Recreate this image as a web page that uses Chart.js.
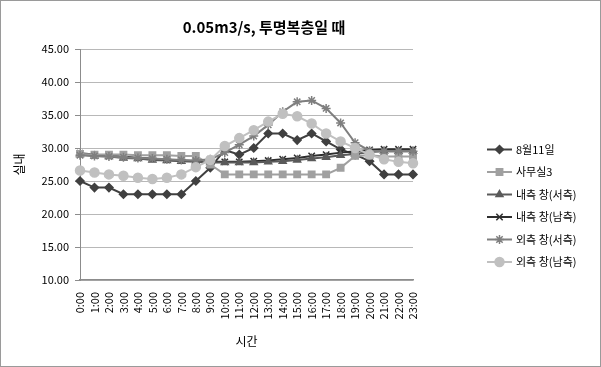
<!DOCTYPE html>
<html>
<head>
<meta charset="utf-8">
<script src="https://cdn.jsdelivr.net/npm/chart.js@4/dist/chart.umd.min.js"></script>
<style>
  html, body { margin: 0; padding: 0; background: #fff; }
  #wrap { width: 601px; height: 367px; position: relative; }
</style>
</head>
<body>
<div id="wrap"><canvas id="c" width="601" height="367"></canvas></div>
<script>
// Hourly labels (x axis)
const hours = ['0:00','1:00','2:00','3:00','4:00','5:00','6:00','7:00','8:00','9:00','10:00','11:00',
               '12:00','13:00','14:00','15:00','16:00','17:00','18:00','19:00','20:00','21:00','22:00','23:00'];

// Series labels
const seriesNames = ['8월11일', '사무실3', '내측 창(서측)', '내측 창(남측)', '외측 창(서측)', '외측 창(남측)'];

// Temperatures (°C) per hour
const aug11     = [25.0,24.0,24.0,23.0,23.0,23.0,23.0,23.0,25.0,27.0,29.7,29.0,30.0,32.2,32.2,31.2,32.2,31.0,29.8,29.0,28.0,26.0,26.0,26.0];
const office3   = [29.1,29.0,29.0,29.0,28.9,28.9,28.9,28.8,28.8,27.5,26.0,26.0,26.0,26.0,26.0,26.0,26.0,26.0,27.0,28.8,28.9,28.7,28.7,28.7];
const innerWest = [29.0,28.8,28.7,28.5,28.4,28.2,28.1,28.0,27.9,27.8,27.8,27.8,27.8,27.9,28.0,28.2,28.4,28.6,28.9,29.1,29.4,29.5,29.5,29.5];
const innerSouth= [29.2,29.0,28.8,28.7,28.5,28.4,28.2,28.1,28.0,27.9,27.9,27.9,28.0,28.1,28.3,28.5,28.8,29.0,29.3,29.5,29.7,29.8,29.8,29.8];
const outerWest = [28.9,28.8,28.7,28.6,28.5,28.4,28.3,28.2,28.1,28.3,29.3,30.5,31.8,33.5,35.5,37.0,37.2,36.0,33.8,30.8,29.6,29.5,29.5,29.5];
const outerSouth= [26.6,26.3,26.0,25.8,25.5,25.3,25.5,26.0,27.1,28.2,30.3,31.5,32.7,34.0,35.2,34.8,33.7,32.2,31.0,30.0,29.0,28.3,27.9,27.7];

// Y axis range
const yMin = 10, yMax = 45, yStep = 5;

const FONT = '"Noto Sans CJK KR", "Noto Sans", sans-serif';

function series(label, data, color, style, radius) {
  return {
    label, data,
    borderColor: color, backgroundColor: color,
    pointBackgroundColor: color, pointBorderColor: color,
    pointStyle: style, pointRadius: radius, pointBorderWidth: 1.5,
    borderWidth: 2, tension: 0, fill: false
  };
}

const datasets = [
  series(seriesNames[5], outerSouth, '#c0c0c0', 'circle', 4.5),
  series(seriesNames[4], outerWest,  '#7f7f7f', 'star', 4.5),
  series(seriesNames[1], office3,    '#a0a0a0', 'rect', 4.5),
  series(seriesNames[2], innerWest,  '#5a5a5a', 'triangle', 4),
  series(seriesNames[3], innerSouth, '#2e2e2e', 'crossRot', 4.5),
  series(seriesNames[0], aug11,      '#404040', 'rectRot', 4)
];
const legendOrder = [5, 2, 3, 4, 1, 0];

// White background, outer frame and chart title
const framePlugin = {
  id: 'frame',
  beforeDraw(chart) {
    const ctx = chart.ctx;
    ctx.save();
    ctx.fillStyle = '#fff';
    ctx.fillRect(0, 0, chart.width, chart.height);
    ctx.strokeStyle = '#9a9a9a';
    ctx.lineWidth = 1;
    ctx.strokeRect(0.5, 0.5, chart.width - 1, chart.height - 1);
    ctx.restore();
  },
  afterDraw(chart) {
    const ctx = chart.ctx;
    ctx.save();
    ctx.fillStyle = '#000';
    ctx.font = 'bold 15px ' + FONT;
    ctx.textAlign = 'center';
    ctx.textBaseline = 'middle';
    ctx.fillText('0.05m3/s, 투명복층일 때', 264, 27);
    ctx.restore();
  }
};

// Legend to the right of the plot
const sideLegend = {
  id: 'sideLegend',
  afterDraw(chart) {
    const ctx = chart.ctx;
    const x0 = 487, x1 = 512, tx = 516, yTop = 149.5, gap = 22.5;
    ctx.save();
    legendOrder.forEach((di, i) => {
      const ds = chart.data.datasets[di];
      const y = yTop + i * gap;
      ctx.strokeStyle = ds.borderColor;
      ctx.lineWidth = 2;
      ctx.beginPath(); ctx.moveTo(x0, y); ctx.lineTo(x1, y); ctx.stroke();
      ctx.fillStyle = ds.pointBackgroundColor;
      ctx.strokeStyle = ds.pointBorderColor;
      ctx.lineWidth = ds.pointBorderWidth;
      Chart.helpers.drawPoint(ctx, { pointStyle: ds.pointStyle, radius: ds.pointRadius, rotation: 0, borderWidth: ds.pointBorderWidth }, (x0 + x1) / 2, y);
      ctx.fillStyle = '#000';
      ctx.font = '11px ' + FONT;
      ctx.textAlign = 'left';
      ctx.textBaseline = 'middle';
      ctx.fillText(ds.label, tx, y);
    });
    ctx.restore();
  }
};

new Chart(document.getElementById('c'), {
  type: 'line',
  data: { labels: hours, datasets },
  options: {
    responsive: false,
    animation: false,
    layout: { padding: { left: 8, right: 188, top: 49, bottom: 0 } },
    plugins: {
      legend: { display: false },
      title: { display: false },
      tooltip: { enabled: false }
    },
    scales: {
      x: {
        grid: { display: false },
        border: { display: true, color: '#8c8c8c', width: 1.5 },
        ticks: {
          autoSkip: false, minRotation: 90, maxRotation: 90,
          color: '#000', font: { size: 11, family: FONT }, padding: 4
        },
        title: { display: true, text: '시간', color: '#000', font: { size: 12, family: FONT }, padding: { top: 0, bottom: 18 } },
        afterFit(scale) { scale.height = 87; }
      },
      y: {
        min: yMin, max: yMax,
        ticks: {
          stepSize: yStep, color: '#000', font: { size: 11, family: FONT }, padding: 6,
          callback: v => v.toFixed(2)
        },
        grid: { color: '#b8b8b8', lineWidth: 1, tickLength: 5, tickColor: '#8c8c8c', drawTicks: true },
        border: { display: true, color: '#8c8c8c', width: 1 },
        title: { display: true, text: '실내', color: '#000', font: { size: 12, family: FONT }, padding: 4 },
        afterFit(scale) { scale.width = 72; }
      }
    }
  },
  plugins: [framePlugin, sideLegend]
});
</script>
</body>
</html>
